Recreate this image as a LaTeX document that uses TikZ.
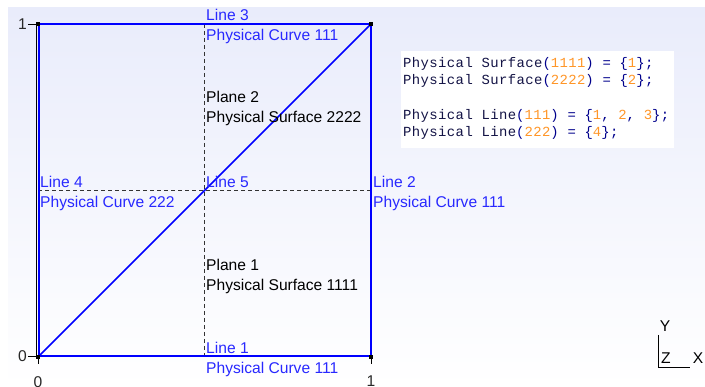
\documentclass[tikz,border=0pt]{standalone}
\usepackage{fontspec}
\setmainfont{Liberation Sans}
\newfontfamily\codefont[LetterSpace=3]{Liberation Mono}
\definecolor{bgtop}{RGB}{233,236,251}
\definecolor{edgeblue}{RGB}{0,0,255}
\definecolor{lblblue}{RGB}{40,40,255}
\definecolor{codenavy}{RGB}{20,20,70}
\definecolor{codepunct}{RGB}{0,0,140}
\definecolor{codenum}{RGB}{255,150,40}
\definecolor{ticktext}{RGB}{40,40,40}
\tikzset{
  lbl/.style={anchor=base west,inner sep=0pt,font=\fontsize{15.6}{18}\selectfont,text=lblblue},
  plbl/.style={anchor=base west,inner sep=0pt,font=\fontsize{15.6}{18}\selectfont,text=black},
  codeline/.style={anchor=base west,inner sep=0pt,font=\codefont\fontsize{13.9}{16}\selectfont,text=codenavy},
  edge/.style={draw=edgeblue,line width=2pt},
  diag/.style={draw=edgeblue,line width=1.5pt},
  guide/.style={draw=black!80,line width=0.9pt,dash pattern=on 4pt off 3pt},
  axisline/.style={draw=black,line width=0.7pt},
  ticklbl/.style={inner sep=0pt,font=\fontsize{15.6}{18}\selectfont,text=ticktext},
  corner/.style={fill=black,minimum size=4.5pt,inner sep=0pt,draw=none}
}
\newcommand{\num}[1]{\textcolor{codenum}{#1}}
\newcommand{\pun}[1]{\textcolor{codepunct}{#1}}
\begin{document}
\begin{tikzpicture}[x=1pt,y=-1pt]
\useasboundingbox (0,0) rectangle (705,387);
\fill[white] (0,0) rectangle (705,387);
\shade[top color=bgtop,bottom color=white] (8,8) rectangle (705,387);
% corners
\coordinate (A) at (38,357);
\coordinate (B) at (371,357);
\coordinate (C) at (371,24);
\coordinate (D) at (38,24);
\coordinate (T) at (204,24);
\coordinate (U) at (204,357);
\coordinate (L) at (38,190.5);
\coordinate (R) at (371,190.5);
% dashed guides
\draw[guide] (T) -- (U);
\draw[guide] (L) -- (R);
% axes (black hairlines under the blue edges)
\coordinate (ytk1) at (28,24);
\coordinate (ytk0) at (28,356);
\coordinate (xtk0) at (38,364);
\coordinate (xtk1) at (371,364);
\draw[axisline] (36.8,24) -- (36.8,357);
\draw[axisline] (38,356.2) -- (371,356.2);
% edges
\draw[edge] (D) -- (C);
\draw[edge] (C) -- (B);
\draw[edge] ([xshift=1.4pt]D) -- ([xshift=1.4pt]A);
\draw[edge] ([yshift=1.4pt]A) -- ([yshift=1.4pt]B);
\draw[diag] (A) -- (C);
\draw[axisline] (ytk1) -- (D);
\draw[axisline] (ytk0) -- (38,356);
\draw[axisline] (A) -- (xtk0);
\draw[axisline] (B) -- (xtk1);
\node[ticklbl,anchor=east] (y1) at (27,24) {1};
\node[ticklbl,anchor=east] (y0) at (27,356) {0};
\node[ticklbl,anchor=north] (x0) at (38,376) {0};
\node[ticklbl,anchor=north] (x1) at (371,376) {1};
% corner points
\node[corner] (pA) at (A) {};
\node[corner] (pB) at (B) {};
\node[corner] (pC) at (C) {};
\node[corner] (pD) at (D) {};
% labels
\node[lbl] (l3) at (206,21) {Line 3};
\node[lbl] (c3) at (206,41) {Physical Curve 111};
\node[plbl] (p2) at (206,103) {Plane 2};
\node[plbl] (s2) at (206,123) {Physical Surface 2222};
\node[lbl] (l4) at (40,188) {Line 4};
\node[lbl] (c4) at (40,208) {Physical Curve 222};
\node[lbl] (l5) at (206,188) {Line 5};
\node[lbl] (l2) at (373,188) {Line 2};
\node[lbl] (c2) at (373,208) {Physical Curve 111};
\node[plbl] (p1) at (206,271) {Plane 1};
\node[plbl] (s1) at (206,291) {Physical Surface 1111};
\node[lbl] (l1) at (206,354) {Line 1};
\node[lbl] (c1) at (206,374) {Physical Curve 111};
% code box
\fill[white] (401,51) rectangle (674,148);
\node[codeline] (k1) at (403,68) {Physical Surface\pun{(}\num{1111}\pun{) = \{}\num{1}\pun{\};}};
\node[codeline] (k2) at (403,85) {Physical Surface\pun{(}\num{2222}\pun{) = \{}\num{2}\pun{\};}};
\node[codeline] (k3) at (403,119.5) {Physical Line\pun{(}\num{111}\pun{) = \{}\num{1}\pun{, }\num{2}\pun{, }\num{3}\pun{\};}};
\node[codeline] (k4) at (403,136.5) {Physical Line\pun{(}\num{222}\pun{) = \{}\num{4}\pun{\};}};
% orientation triad
\coordinate (o) at (658,367);
\coordinate (oy) at (658,335);
\coordinate (ox) at (690,367);
\draw[line width=0.9pt] (oy) -- (o) -- (ox);
\node[ticklbl,text=black] (ty) at (665,326) {Y};
\node[ticklbl,text=black] (tz) at (666,358) {Z};
\node[ticklbl,text=black] (tx) at (698,358) {X};
\end{tikzpicture}
\end{document}
